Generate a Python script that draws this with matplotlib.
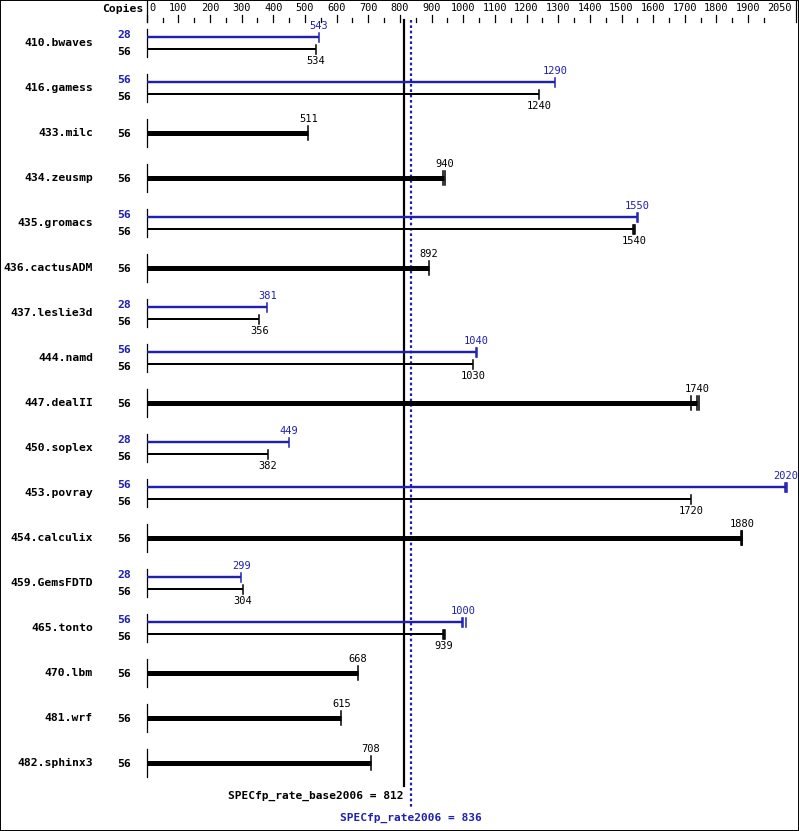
import matplotlib
matplotlib.use("Agg")
import matplotlib.pyplot as plt
from matplotlib.patches import Rectangle

# benchmark data (None = no peak result shown separately)
names = ["410.bwaves", "416.gamess", "433.milc", "434.zeusmp", "435.gromacs",
         "436.cactusADM", "437.leslie3d", "444.namd", "447.dealII", "450.soplex",
         "453.povray", "454.calculix", "459.GemsFDTD", "465.tonto", "470.lbm",
         "481.wrf", "482.sphinx3"]
base_copies = [56] * 17
peak_copies = [28, 56, None, None, 56, None, 28, 56, None, 28, 56, None, 28, 56, None, None, None]
base_vals = [534, 1240, 511, 940, 1540, 892, 356, 1030, 1740, 382, 1720, 1880, 304, 939, 668, 615, 708]
peak_vals = [543, 1290, None, None, 1550, None, 381, 1040, None, 449, 2020, None, 299, 1000, None, None, None]
# individual run results (end ticks)
base_runs = [[534], [1240], [511], [937, 943], [1537, 1540, 1543], [892], [356], [1030],
             [1720, 1740, 1745], [382], [1720], [1878, 1880, 1882], [304], [937, 939, 941],
             [668], [615], [708]]
peak_runs = [[543], [1290], None, None, [1548, 1552], None, [381], [1040, 1043], None,
             [449], [2017, 2020, 2023], None, [299], [995, 1000, 1010], None, None, None]

base_score = 812
peak_score = 836
tick_vals = list(range(0, 2000, 100))
tick_last = 2050

W, H = 799, 831
x0_px, scale = 146.7, 0.31655  # pixel of value 0, pixels per unit

fig = plt.figure(figsize=(W / 100, H / 100), dpi=100)
ax = fig.add_axes([0, 0, 1, 1])
ax.set_xlim(-x0_px / scale, (W - x0_px) / scale)
ax.set_ylim(H, 0)
ax.axis("off")


def px(x):
    return (x - x0_px) / scale


BLUE = "#2020b0"
mono = "DejaVu Sans Mono"
lw_thin = 2 * 0.72
lw_peak = 2.4 * 0.72
lw_thick = 5 * 0.72

# outer frame
fig.patches.append(Rectangle((0, 0), 1, 1, transform=fig.transFigure, fill=False,
                             edgecolor="black", linewidth=1.4))

# top scale
ax.text(px(143), 9, "Copies", ha="right", va="center", fontsize=8.2,
        fontweight="bold", family=mono)
ax.plot([0, 0], [0, 22], color="black", lw=0.9)
for v in tick_vals:
    ax.plot([v, v], [15, 22], color="black", lw=0.9)
    ax.plot([v + 50, v + 50], [18, 22], color="black", lw=0.9)
    ha = "left" if v == 0 else "center"
    ax.text(v + (px(149) if v == 0 else 0), 8, str(v), ha=ha, va="center",
            fontsize=7.4, family=mono)
ax.plot([tick_last, tick_last], [0, 22], color="black", lw=0.9)
ax.text(2000, 8, str(tick_last), ha="center", va="center", fontsize=7.4, family=mono)

# reference lines
ax.plot([base_score, base_score], [20, 786], color="black", lw=1.6)
ax.plot([peak_score, peak_score], [20, 808], color=BLUE, lw=1.6, ls=(0, (1.2, 1.2)))
ax.text(base_score, 796, "SPECfp_rate_base2006 = %d" % base_score, ha="right",
        va="center", fontsize=8, fontweight="bold", family=mono)
ax.text(peak_score, 818, "SPECfp_rate2006 = %d" % peak_score, ha="center",
        va="center", fontsize=8, fontweight="bold", family=mono, color=BLUE)

for i, name in enumerate(names):
    yc = 43 + 45 * i
    ax.text(px(93), yc, name, ha="right", va="center", fontsize=8.2,
            fontweight="bold", family=mono)
    ax.plot([0, 0], [yc - 14, yc + 14], color="black", lw=0.9)
    if peak_vals[i] is None:
        ax.text(px(131), yc + 1, str(base_copies[i]), ha="right", va="center",
                fontsize=8.2, fontweight="bold", family=mono)
        ax.plot([0, base_vals[i]], [yc, yc], color="black", lw=lw_thick,
                solid_capstyle="butt")
        for r in base_runs[i]:
            ax.plot([r, r], [yc - 7, yc + 7], color="black", lw=1.1)
        ax.text(base_vals[i], yc - 14, str(base_vals[i]), ha="center",
                va="center", fontsize=7.5, family=mono)
    else:
        yp, yb = yc - 6, yc + 6
        ax.text(px(131), yp - 2, str(peak_copies[i]), ha="right", va="center",
                fontsize=8.2, fontweight="bold", family=mono, color=BLUE)
        ax.text(px(131), yb + 3, str(base_copies[i]), ha="right", va="center",
                fontsize=8.2, fontweight="bold", family=mono)
        ax.plot([0, peak_vals[i]], [yp, yp], color=BLUE, lw=lw_peak,
                solid_capstyle="butt")
        for r in peak_runs[i]:
            ax.plot([r, r], [yp - 4.5, yp + 4.5], color=BLUE, lw=1.1)
        ax.text(peak_vals[i], yp - 11, str(peak_vals[i]), ha="center",
                va="center", fontsize=7.5, family=mono, color=BLUE)
        ax.plot([0, base_vals[i]], [yb, yb], color="black", lw=lw_thin,
                solid_capstyle="butt")
        for r in base_runs[i]:
            ax.plot([r, r], [yb - 4.5, yb + 4.5], color="black", lw=1.1)
        ax.text(base_vals[i], yb + 12, str(base_vals[i]), ha="center",
                va="center", fontsize=7.5, family=mono)

fig.savefig("out.png", dpi=100)
